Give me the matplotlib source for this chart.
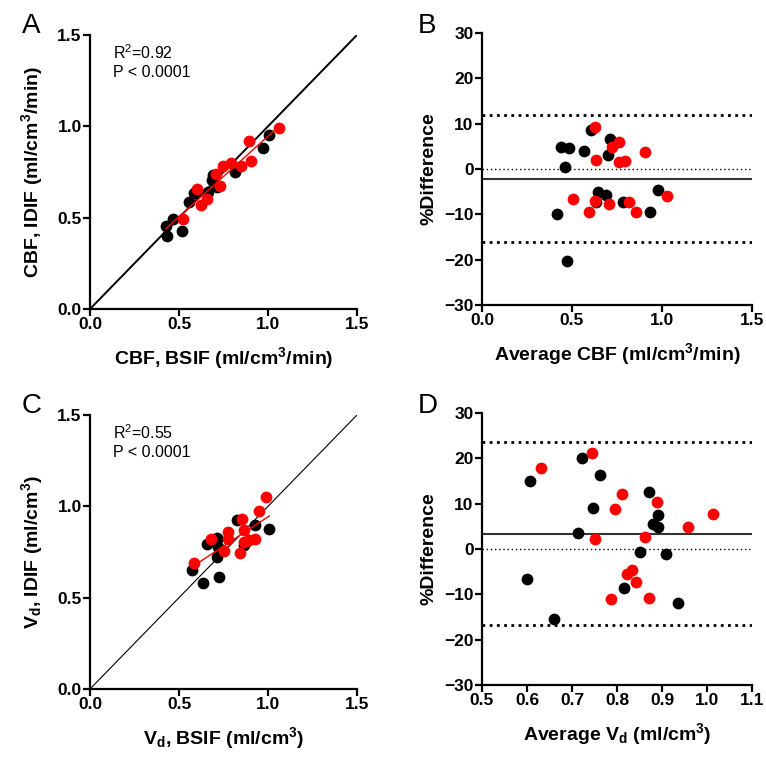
import numpy as np
import matplotlib
matplotlib.use("Agg")
import matplotlib.pyplot as plt

plt.rcParams['font.family'] = ['Liberation Sans', 'DejaVu Sans']
plt.rcParams['mathtext.fontset'] = 'custom'
plt.rcParams['mathtext.rm'] = 'Liberation Sans'
plt.rcParams['mathtext.it'] = 'Liberation Sans'
plt.rcParams['mathtext.bf'] = 'Liberation Sans:bold'

# Panel A: CBF, BSIF vs IDIF
cbf_bsif_black = [0.434, 0.427, 0.464, 0.519, 0.558, 0.584, 0.665, 0.693, 0.684, 0.712, 0.815, 0.974, 1.007]
cbf_idif_black = [0.400, 0.454, 0.494, 0.425, 0.586, 0.633, 0.642, 0.733, 0.706, 0.666, 0.752, 0.883, 0.951]
cbf_bsif_red = [0.524, 0.599, 0.655, 0.624, 0.730, 0.708, 0.745, 0.790, 0.846, 0.903, 0.895, 1.064]
cbf_idif_red = [0.491, 0.655, 0.604, 0.568, 0.673, 0.739, 0.783, 0.801, 0.783, 0.812, 0.918, 0.991]

# Panel B: Bland-Altman CBF
cbf_avg_black = [0.437, 0.483, 0.463, 0.418, 0.474, 0.568, 0.606, 0.698, 0.713, 0.646, 0.687, 0.635, 0.782, 0.933, 0.976]
cbf_diff_black = [4.96, 4.73, 0.5, -9.86, -20.2, 3.9, 8.66, 3.18, 6.66, -4.97, -5.7, -7.33, -7.2, -9.56, -4.67]
cbf_avg_red = [0.628, 0.635, 0.507, 0.594, 0.628, 0.704, 0.722, 0.763, 0.759, 0.796, 0.815, 0.857, 0.906, 1.030]
cbf_diff_red = [9.25, 2.0, -6.67, -9.4, -6.96, -7.78, 4.96, 5.92, 1.55, 1.7, -7.26, -9.56, 3.85, -5.93]

# Panel C: Vd, BSIF vs IDIF
vd_bsif_black = [0.571, 0.633, 0.659, 0.712, 0.721, 0.712, 0.723, 0.828, 0.865, 0.925, 1.007, 0.715]
vd_idif_black = [0.651, 0.582, 0.794, 0.825, 0.776, 0.724, 0.611, 0.925, 0.788, 0.899, 0.874, 0.820]
vd_bsif_red = [0.584, 0.678, 0.753, 0.773, 0.773, 0.843, 0.854, 0.865, 0.865, 0.891, 0.929, 0.948, 0.989]
vd_idif_red = [0.691, 0.823, 0.757, 0.861, 0.819, 0.743, 0.932, 0.870, 0.806, 0.815, 0.821, 0.976, 1.049]

# Panel D: Bland-Altman Vd
vd_avg_black = [0.607, 0.723, 0.763, 0.747, 0.714, 0.872, 0.879, 0.890, 0.891, 0.850, 0.908, 0.601, 0.816, 0.661, 0.936]
vd_diff_black = [15.0, 20.0, 16.3, 9.0, 3.45, 12.5, 5.6, 7.4, 4.93, -0.6, -1.19, -6.6, -8.5, -15.4, -11.9]
vd_avg_red = [0.631, 0.745, 0.810, 0.796, 0.888, 0.750, 0.863, 0.958, 1.014, 0.823, 0.834, 0.842, 0.787, 0.870]
vd_diff_red = [17.8, 21.2, 12.2, 8.85, 10.3, 2.28, 2.65, 4.87, 7.66, -5.6, -4.7, -7.3, -11.0, -10.7]

RED = '#ff0000'
TICK_FS = 12.5
LABEL_FS = 14
DOT = 72


def style_axes(ax):
    for side in ['top', 'right']:
        ax.spines[side].set_visible(False)
    for side in ['left', 'bottom']:
        ax.spines[side].set_linewidth(1.6)
    ax.tick_params(direction='out', length=5, width=1.6, pad=1, labelsize=TICK_FS)
    for lab in ax.get_xticklabels() + ax.get_yticklabels():
        lab.set_fontweight('bold')


def correlation_panel(ax, xb, yb, xr, yr, lw_identity, r2_text, xlabel, ylabel):
    ax.plot([0, 1.5], [0, 1.5], color='black', lw=lw_identity, zorder=1)
    xs = np.concatenate([xb, xr])
    ys = np.concatenate([yb, yr])
    slope, icpt = np.polyfit(xs, ys, 1)
    xfit = np.array([xs.min(), xs.max()])
    ax.scatter(xb, yb, s=DOT, color='black', zorder=2, linewidths=0)
    ax.scatter(xr, yr, s=DOT, color=RED, zorder=3, linewidths=0)
    ax.plot(xfit, slope * xfit + icpt, color=RED, lw=1.0, zorder=4)
    ax.set_xlim(0, 1.5)
    ax.set_ylim(0, 1.5)
    ax.set_xticks([0, 0.5, 1.0, 1.5])
    ax.set_yticks([0, 0.5, 1.0, 1.5])
    ax.xaxis.set_major_formatter(plt.FormatStrFormatter('%.1f'))
    ax.yaxis.set_major_formatter(plt.FormatStrFormatter('%.1f'))
    ax.text(0.085, 0.97, r2_text + '\nP < 0.0001', transform=ax.transAxes,
            fontsize=11.5, va='top', ha='left', linespacing=1.25)
    ax.set_xlabel(xlabel, fontsize=LABEL_FS, fontweight='bold', labelpad=9)
    ax.set_ylabel(ylabel, fontsize=LABEL_FS, fontweight='bold', labelpad=9)
    style_axes(ax)


def bland_altman_panel(ax, ab, db, ar, dr, xlim, xticks, xlabel):
    diffs = np.concatenate([db, dr])
    mean_d = diffs.mean()
    sd = diffs.std(ddof=1)
    ax.axhline(0, color='black', lw=1.0, ls=(0, (1, 2)), zorder=1)
    ax.axhline(mean_d, color='#333333', lw=1.5, zorder=1)
    ax.axhline(mean_d + 1.96 * sd, color='black', lw=2.0, ls=(0, (1, 1.6)), zorder=1)
    ax.axhline(mean_d - 1.96 * sd, color='black', lw=2.0, ls=(0, (1, 1.6)), zorder=1)
    ax.scatter(ab, db, s=DOT, color='black', zorder=2, linewidths=0)
    ax.scatter(ar, dr, s=DOT, color=RED, zorder=3, linewidths=0)
    ax.set_xlim(*xlim)
    ax.set_ylim(-30, 30)
    ax.set_xticks(xticks)
    ax.set_yticks(np.arange(-30, 31, 10))
    ax.xaxis.set_major_formatter(plt.FormatStrFormatter('%.1f'))
    ax.set_xlabel(xlabel, fontsize=LABEL_FS, fontweight='bold', labelpad=9)
    ax.set_ylabel('%Difference', fontsize=LABEL_FS, fontweight='bold', labelpad=5)
    style_axes(ax)


fig = plt.figure(figsize=(7.66, 7.59), dpi=100)
W, H = 766.0, 759.0

def px_axes(left, top, right, bottom):
    return fig.add_axes([left / W, 1 - bottom / H, (right - left) / W, (bottom - top) / H])

ax_a = px_axes(90, 35, 357, 309)
ax_b = px_axes(482, 33, 752, 305)
ax_c = px_axes(90, 415, 357, 689)
ax_d = px_axes(482, 413, 752, 685)

correlation_panel(ax_a, cbf_bsif_black, cbf_idif_black, cbf_bsif_red, cbf_idif_red, 1.4,
                  r'R$^2$=0.92',
                  r'CBF, BSIF (ml/cm$^\mathbf{3}$/min)', r'CBF, IDIF (ml/cm$^\mathbf{3}$/min)')
correlation_panel(ax_c, vd_bsif_black, vd_idif_black, vd_bsif_red, vd_idif_red, 0.8,
                  r'R$^2$=0.55',
                  r'$\mathbf{V_d}$, BSIF (ml/cm$^\mathbf{3}$)', r'$\mathbf{V_d}$, IDIF (ml/cm$^\mathbf{3}$)')

bland_altman_panel(ax_b, cbf_avg_black, cbf_diff_black, cbf_avg_red, cbf_diff_red,
                   (0, 1.5), [0, 0.5, 1.0, 1.5], r'Average CBF (ml/cm$^\mathbf{3}$/min)')
bland_altman_panel(ax_d, vd_avg_black, vd_diff_black, vd_avg_red, vd_diff_red,
                   (0.5, 1.1), np.arange(0.5, 1.11, 0.1), r'Average $\mathbf{V_d}$ (ml/cm$^\mathbf{3}$)')

for letter, (x, y) in zip('ABCD', [(22, 33), (418, 33), (22, 413), (418, 413)]):
    fig.text(x / W, 1 - y / H, letter, fontsize=20, ha='left', va='baseline')

fig.savefig('out.png', dpi=100)
